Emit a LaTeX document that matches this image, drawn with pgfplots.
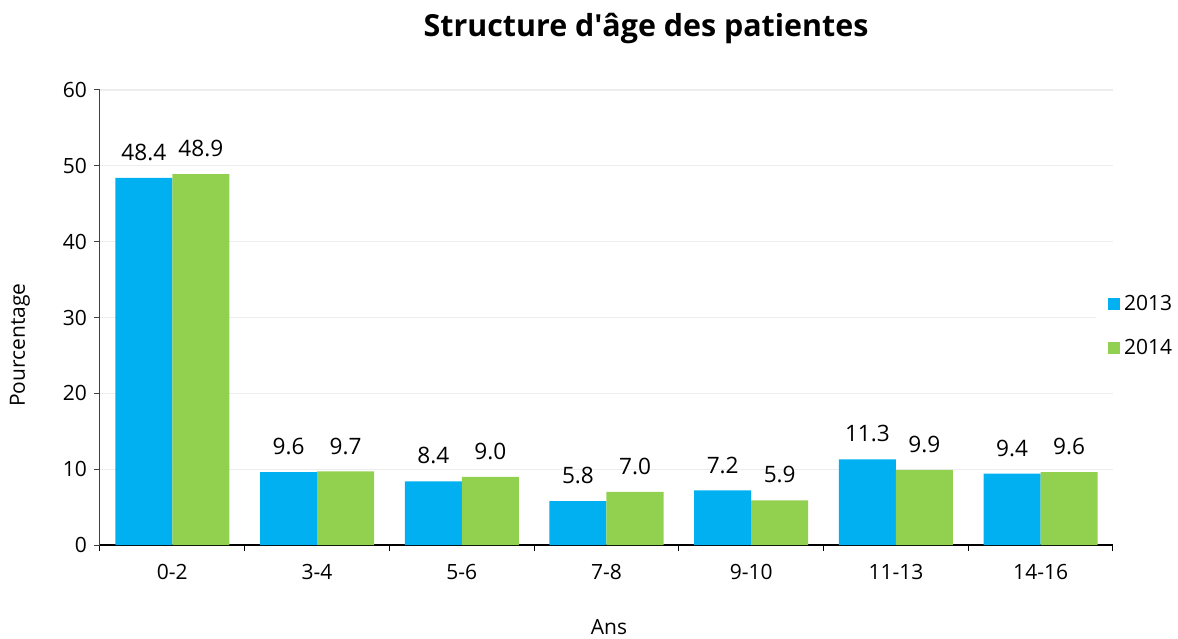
\documentclass[border=0pt]{standalone}
\usepackage{fontspec}
\setmainfont{Open Sans}
\usepackage{pgfplots}
\pgfplotsset{compat=1.18}
\definecolor{c2013}{HTML}{00B0F0}
\definecolor{c2014}{HTML}{92D050}
\definecolor{gridc}{HTML}{EDEDED}
\begin{document}
\begin{tikzpicture}
\path[use as bounding box] (-50pt,-46.5pt) rectangle (539pt,272.5pt);
\begin{axis}[
  at={(0,0)}, anchor=south west,
  scale only axis, width=506.5pt, height=227.5pt,
  /pgf/number format/assume math mode=true,
  ybar=0pt, bar width=0.394,
  xmin=-0.5, xmax=6.5, ymin=0, ymax=60,
  ytick={0,10,...,60},
  xtick={0,...,6},
  xticklabels={0-2,3-4,5-6,7-8,9-10,11-13,14-16},
  minor xtick={-0.5,0.5,...,6.5},
  tick align=outside,
  major tick length=3pt, minor tick length=3pt,
  major x tick style={draw=none},
  minor x tick style={draw=black, line width=0.5pt},
  ytick style={draw=black!75, line width=0.5pt},
  axis x line*=bottom, axis y line*=left,
  x axis line style={-, black, line width=0.6pt},
  y axis line style={-, black!75, line width=0.5pt},
  ymajorgrids, grid style={gridc, line width=0.6pt},
  ticklabel style={font=\fontsize{10.5}{12}\selectfont},
  xticklabel style={yshift=-3pt},
  nodes near coords={\pgfmathprintnumber[fixed,fixed zerofill,precision=1]{\pgfplotspointmeta}},
  nodes near coords style={font=\fontsize{11.3}{13}\selectfont, yshift=5pt},
  legend style={at={(1.0287,0.481)}, anchor=center, draw=none, fill=white,
    font=\fontsize{10.5}{12}\selectfont, row sep=9pt, inner xsep=6pt},
  legend cell align=left,
  legend image code/.code={\fill[#1] (0pt,-3pt) rectangle (6pt,3pt);},
]
\addplot[fill=c2013, draw=none] coordinates {(0,48.4) (1,9.6) (2,8.4) (3,5.8) (4,7.2) (5,11.3) (6,9.4)};
\addplot[fill=c2014, draw=none] coordinates {(0,48.9) (1,9.7) (2,9.0) (3,7.0) (4,5.9) (5,9.9) (6,9.6)};
\legend{2013,2014}
\end{axis}
\node[font=\bfseries\fontsize{15.2}{17}\selectfont] at (273pt,258pt) {Structure d\textquotesingle âge des patientes};
\node[rotate=90, font=\fontsize{10.5}{12}\selectfont] at (-40pt,100pt) {Pourcentage};
\node[font=\fontsize{10.5}{12}\selectfont] at (254.5pt,-41pt) {Ans};
\end{tikzpicture}
\end{document}
